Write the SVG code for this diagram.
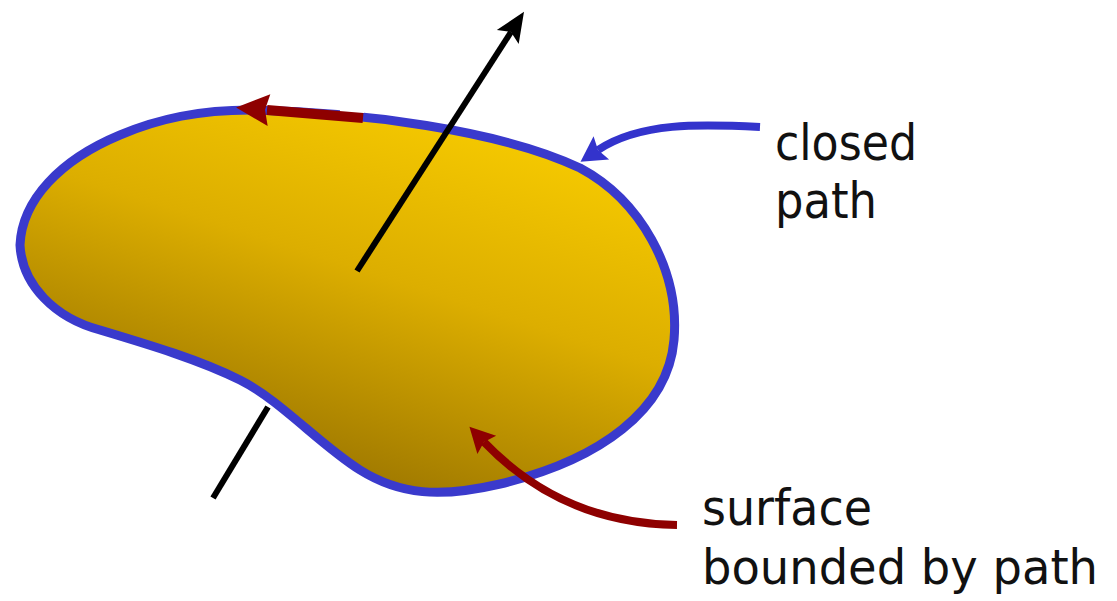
<svg xmlns="http://www.w3.org/2000/svg" width="1117" height="601" viewBox="0 0 1117 601">
<style>
.lbl{font-family:"DejaVu Sans","Verdana",sans-serif;font-size:50px;fill:#111}
</style>
<defs>
<linearGradient id="fillG" gradientUnits="userSpaceOnUse" x1="530" y1="120" x2="410" y2="490">
<stop offset="0" stop-color="#f8cc00"/>
<stop offset="0.5" stop-color="#dcae00"/>
<stop offset="1" stop-color="#a27b00"/>
</linearGradient>
<marker id="hBlack" markerUnits="userSpaceOnUse" orient="auto" refX="0" refY="0" markerWidth="40" markerHeight="40" overflow="visible">
<path d="M24 0 L-6 -13 L0 0 L-6 13 Z" fill="#000"/>
</marker>
<marker id="hRed" markerUnits="userSpaceOnUse" orient="auto" refX="0" refY="0" markerWidth="40" markerHeight="40" overflow="visible">
<path d="M31 0 L-2 -16 L2 0 L-2 16 Z" fill="#8e0000"/>
</marker>
<marker id="hRed2" markerUnits="userSpaceOnUse" orient="auto" refX="0" refY="0" markerWidth="40" markerHeight="40" overflow="visible">
<path d="M21 0 L-4 -13 L0 0 L-4 13 Z" fill="#8e0000"/>
</marker>
<marker id="hBlue" markerUnits="userSpaceOnUse" orient="auto" refX="0" refY="0" markerWidth="40" markerHeight="40" overflow="visible">
<path d="M21 0 L-4 -14 L0 0 L-4 14 Z" fill="#3333cc"/>
</marker>
</defs>
<rect width="1117" height="601" fill="#fff"/>
<g id="axis-lower">
<line x1="213" y1="498" x2="268" y2="407" stroke="#000" stroke-width="6"/>
</g>
<g id="surface">
<path d="M250,110 C360,112 500,130 580,168 C640,200 680,270 674,340 C668,410 600,460 500,484 C440,498 400,495 360,470 C320,445 280,400 240,380 C200,360 150,345 100,330 C55,318 22,285 20,245 C22,200 60,160 120,135 C160,118 200,110 250,110 Z" fill="url(#fillG)" stroke="#3a3acc" stroke-width="9"/>
</g>
<g id="connectors" fill="none" stroke-linecap="butt">
<line x1="357" y1="271" x2="511" y2="32" stroke="#000" stroke-width="6" marker-end="url(#hBlack)"/>
<rect x="340" y="98" width="24" height="15" fill="#fff" stroke="none"/>
<line x1="363" y1="118" x2="267" y2="110" stroke="#8e0000" stroke-width="10" marker-end="url(#hRed)"/>
<path d="M760,127 C700,124 640,122 598,150" stroke="#3333cc" stroke-width="8" marker-end="url(#hBlue)"/>
<path d="M677,525 C600,524 535,495 484,442" stroke="#8e0000" stroke-width="8" marker-end="url(#hRed2)"/>
</g>
<g id="label-closed-path">
<text class="lbl" x="775" y="160" textLength="142" lengthAdjust="spacingAndGlyphs">closed</text>
<text class="lbl" x="775" y="218" textLength="102" lengthAdjust="spacingAndGlyphs">path</text>
</g>
<g id="label-surface">
<text class="lbl" x="702" y="525" textLength="170" lengthAdjust="spacingAndGlyphs">surface</text>
<text class="lbl" x="702" y="584" style="font-size:48px" textLength="396" lengthAdjust="spacingAndGlyphs">bounded by path</text>
</g>
</svg>
